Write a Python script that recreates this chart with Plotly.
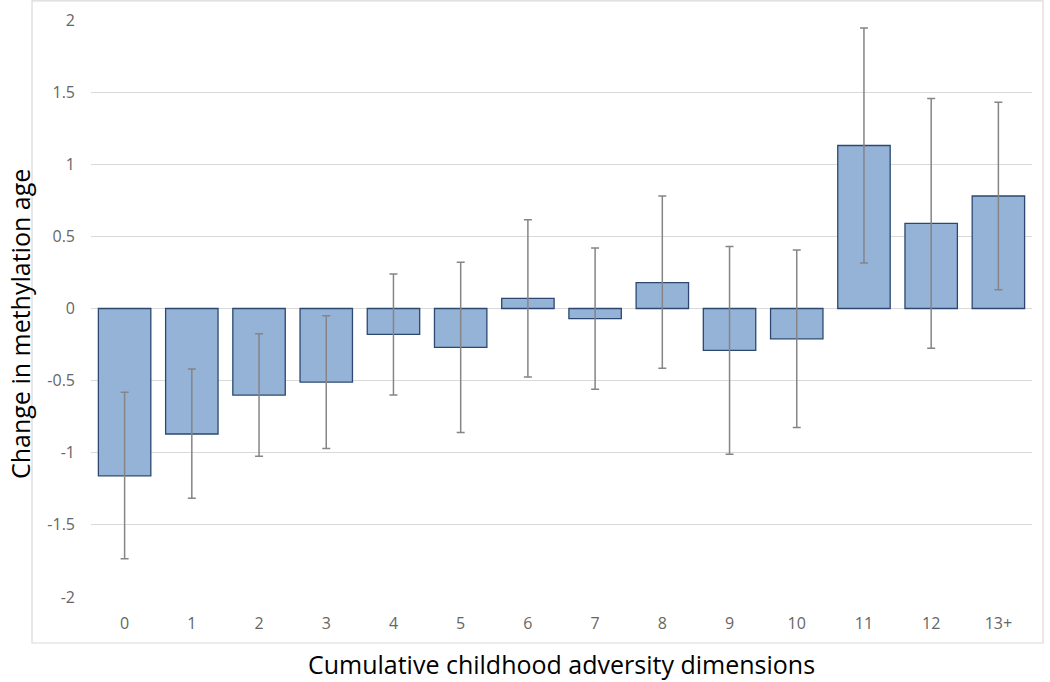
import plotly.graph_objects as go

categories = ["0", "1", "2", "3", "4", "5", "6", "7", "8", "9", "10", "11", "12", "13+"]
values = [-1.16, -0.87, -0.60, -0.51, -0.18, -0.27, 0.07, -0.07, 0.18, -0.29, -0.21, 1.13, 0.59, 0.78]
ci_upper = [-0.58, -0.42, -0.175, -0.05, 0.24, 0.32, 0.615, 0.42, 0.78, 0.43, 0.405, 1.945, 1.455, 1.43]
ci_lower = [-1.735, -1.315, -1.025, -0.97, -0.60, -0.86, -0.475, -0.56, -0.415, -1.01, -0.825, 0.315, -0.275, 0.13]
y_tickvals = [-2, -1.5, -1, -0.5, 0, 0.5, 1, 1.5, 2]
y_ticktext = ["-2", "-1.5", "-1", "-0.5", "0", "0.5", "1", "1.5", "2"]
x_title = "Cumulative childhood adversity dimensions"
y_title = "Change in methylation age"

err_plus = [u - v for u, v in zip(ci_upper, values)]
err_minus = [v - l for v, l in zip(values, ci_lower)]

fig = go.Figure()
fig.add_trace(go.Bar(
    x=categories,
    y=values,
    marker=dict(color="#95B3D7", line=dict(color="#2C4870", width=1.3)),
    error_y=dict(type="data", symmetric=False, array=err_plus, arrayminus=err_minus,
                 color="#858585", thickness=1.5, width=4),
    width=0.78,
))

fig.update_layout(
    width=1050, height=682,
    margin=dict(l=91, r=18, t=20, b=85),
    paper_bgcolor="white", plot_bgcolor="white",
    font=dict(family="Open Sans", color="#595959"),
    showlegend=False,
    xaxis=dict(
        type="category", automargin=False,
        showgrid=False, zeroline=False, showline=False, ticks="",
        tickfont=dict(size=16, color="#666666"),
        ticklabelstandoff=15,
        title=dict(text=x_title, font=dict(size=25, color="black"), standoff=23),
    ),
    yaxis=dict(
        range=[-2, 2], tickvals=y_tickvals, ticktext=y_ticktext, automargin=False,
        showgrid=True, gridcolor="#D9D9D9", gridwidth=1,
        zeroline=True, zerolinecolor="#D9D9D9", zerolinewidth=1,
        showline=False, ticks="",
        tickfont=dict(size=16, color="#666666"),
        ticklabelstandoff=15,
    ),
    annotations=[dict(text=y_title, textangle=-90, xref="paper", yref="paper",
                      x=-0.0755, y=0.473, xanchor="center", yanchor="middle",
                      showarrow=False, font=dict(size=25, color="black"))],
    shapes=[dict(type="rect", xref="paper", yref="paper",
                 x0=-0.0627, x1=1.0117, y0=-0.0797, y1=1.033,
                 line=dict(color="#D9D9D9", width=1.2), fillcolor="rgba(0,0,0,0)",
                 layer="below")],
)

fig.write_html("out.html", config={"displayModeBar": False},
               post_script="document.body.style.margin='0';")
